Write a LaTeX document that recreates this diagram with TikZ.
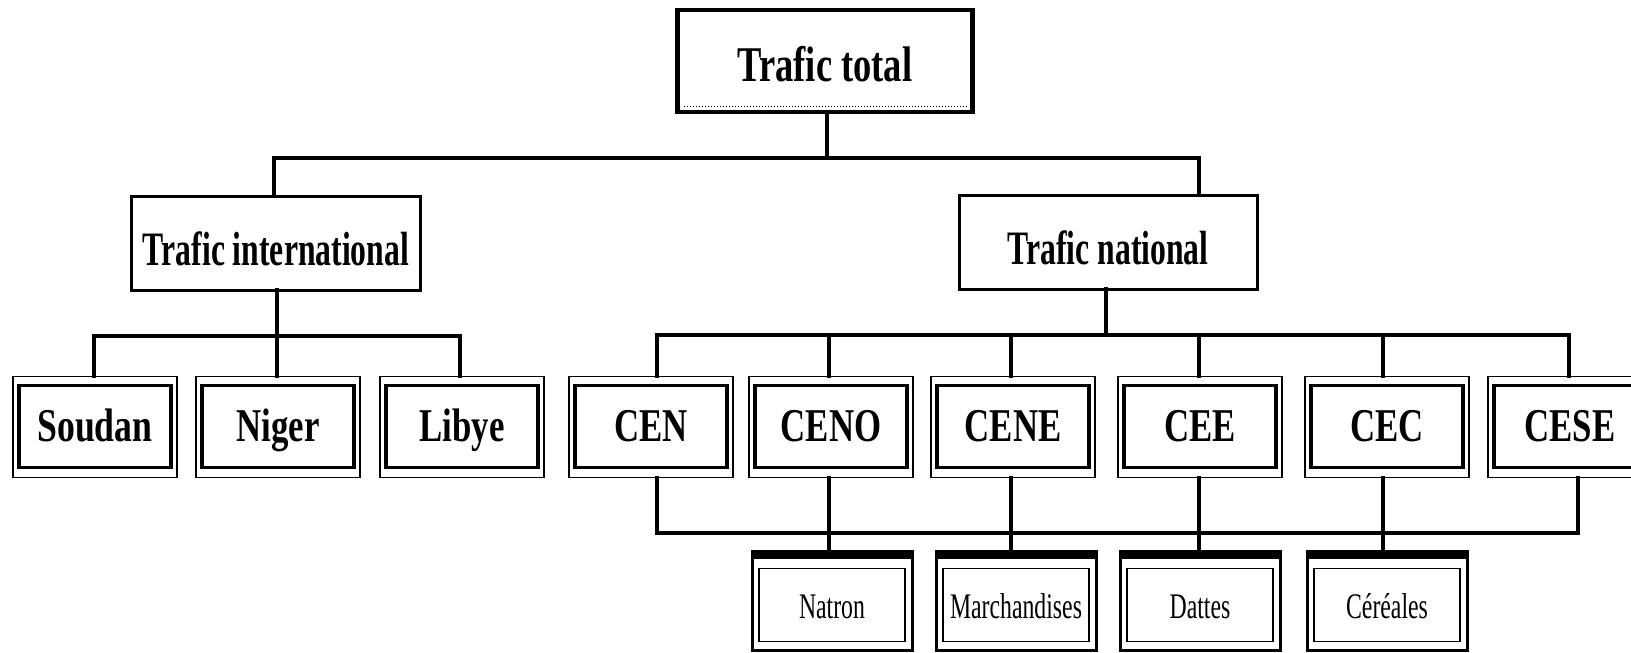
\documentclass[tikz,border=0pt]{standalone}
\usepackage{fontspec}
\usepackage{graphicx}
\setmainfont{Liberation Serif}
\newcommand\sx[2]{\scalebox{#1}[1]{#2}}
\tikzset{
  x=1pt, y=-1pt,
  conn/.style={line width=3.5pt, line cap=rect},
  topbox/.style={draw, line width=4.5pt, minimum width=295pt, minimum height=102pt, inner sep=0pt, outer sep=0pt,
    font=\fontsize{50}{50}\selectfont\bfseries, text height=40pt, text depth=0pt},
  midbox/.style={draw, line width=3pt, minimum height=94pt, inner sep=0pt, outer sep=0pt,
    font=\fontsize{48}{48}\selectfont\bfseries, text height=44pt, text depth=0pt},
  cebox/.style={draw, line width=1.5pt, minimum width=164pt, minimum height=101pt, inner sep=0pt, outer sep=0pt,
    font=\fontsize{47}{47}\selectfont\bfseries, text height=40pt, text depth=11pt},
  prodbox/.style={draw, line width=3pt, minimum width=160pt, minimum height=99pt, inner sep=0pt, outer sep=0pt,
    font=\fontsize{36}{36}\selectfont, text height=35pt, text depth=0pt},
}
\begin{document}
\begin{tikzpicture}
\useasboundingbox (0,0) rectangle (1631,653);
% nodes
\node[topbox] (tot) at (825,61) {\sx{0.73}{Trafic total}};
\node[midbox, minimum width=289pt] (int) at (276,243) {\sx{0.66}{Trafic international}};
\node[midbox, minimum width=298pt] (nat) at (1108,242) {\sx{0.66}{Trafic national}};
\node[cebox] (sou) at (95,427) {\sx{0.76}{Soudan}};
\node[cebox] (nig) at (278,427) {\sx{0.74}{Niger}};
\node[cebox] (lib) at (462,427) {\sx{0.74}{Libye}};
\node[cebox] (cen) at (651,427) {\sx{0.74}{CEN}};
\node[cebox] (ceno) at (831,427) {\sx{0.74}{CENO}};
\node[cebox] (cene) at (1013,427) {\sx{0.74}{CENE}};
\node[cebox] (cee) at (1200,427) {\sx{0.74}{CEE}};
\node[cebox] (cec) at (1387,427) {\sx{0.74}{CEC}};
\node[cebox] (cese) at (1570,427) {\sx{0.74}{CESE}};
\node[prodbox] (nat1) at (832,601) {\sx{0.66}{Natron}};
\node[prodbox] (mar) at (1016,601) {\sx{0.66}{Marchandises}};
\node[prodbox] (dat) at (1200,601) {\sx{0.66}{Dattes}};
\node[prodbox] (cer) at (1387,601) {\sx{0.66}{Céréales}};
% inner frames
\foreach \n in {sou,nig,lib,cen,ceno,cene,cee,cec,cese}
  \draw[line width=3.5pt] ([shift={(6,9)}]\n.north west) rectangle ([shift={(-6,-10)}]\n.south east);
\foreach \n in {nat1,mar,dat,cer}{
  \fill (\n.north west) rectangle ([shift={(0,7)}]\n.north east);
  \draw[line width=1.5pt] ([shift={(7,17)}]\n.north west) rectangle ([shift={(-7,-9)}]\n.south east);
}
\draw[line width=1pt, dotted] ([shift={(6,-6)}]tot.south west) -- ([shift={(-6,-6)}]tot.south east);
% x positions of connectors
\coordinate (xa) at (274,0);
\coordinate (xb) at (1199,0);
\coordinate (xs) at (94,0);
\coordinate (xl) at (460,0);
\coordinate (xc1) at (657,0);
\coordinate (xc2) at (829,0);
\coordinate (xc3) at (1011,0);
\coordinate (xc4) at (1199,0);
\coordinate (xc5) at (1383,0);
\coordinate (xc6) at (1569,0);
\coordinate (xc7) at (1578,0);
% connectors
\coordinate (b1) at (827,158);
\draw[conn] (tot.south -| b1) -- (b1);
\draw[conn] (int.north -| xa) |- (b1) -| (nat.north -| xb);
\coordinate (b2) at (277,336);
\draw[conn] (int.south -| b2) -- (b2);
\draw[conn] (sou.north -| xs) |- (b2) -| (lib.north -| xl);
\draw[conn] (nig.north -| b2) -- (b2);
\coordinate (b3) at (1106,335);
\draw[conn] (nat.south -| b3) -- (b3);
\draw[conn] (cen.north -| xc1) |- (b3) -| (cese.north -| xc6);
\foreach \n/\xx in {ceno/xc2,cene/xc3,cee/xc4,cec/xc5}
  \draw[conn] (\n.north -| \xx) -- (b3 -| \xx);
% bottom bus
\coordinate (b4) at (657,533);
\draw[conn] (cen.south -| xc1) -- (b4) -- (b4 -| xc7) -- (cese.south -| xc7);
\foreach \a/\b/\xx in {ceno/nat1/xc2,cene/mar/xc3,cee/dat/xc4,cec/cer/xc5}
  \draw[conn] (\a.south -| \xx) -- (\b.north -| \xx);
\end{tikzpicture}
\end{document}
